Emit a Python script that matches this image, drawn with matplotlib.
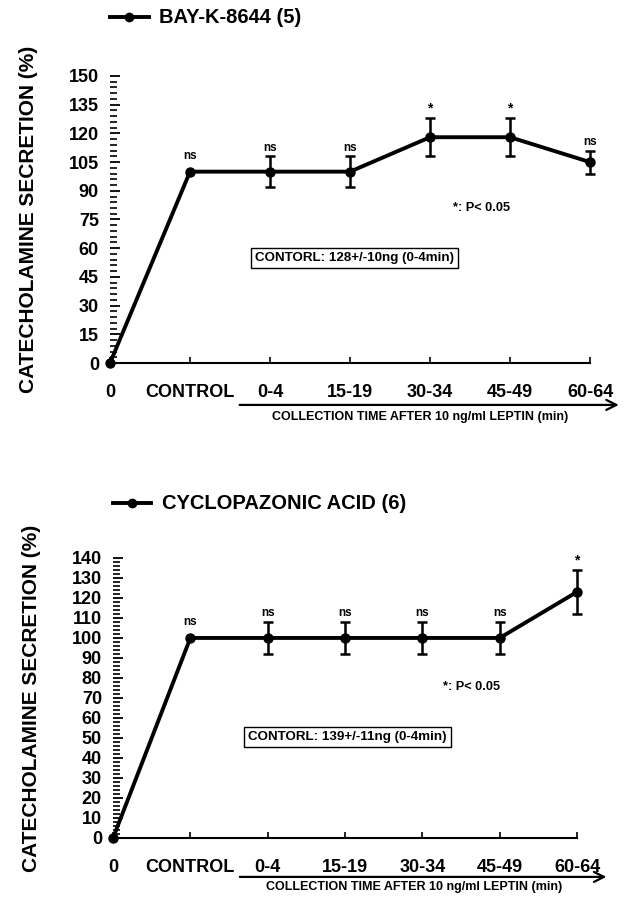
import matplotlib
matplotlib.use("Agg")
import matplotlib.pyplot as plt
from matplotlib.ticker import MultipleLocator

plt.rcParams['font.family'] = ['Liberation Sans', 'DejaVu Sans']
plt.rcParams['font.weight'] = 'bold'

# shared x categories
categories = ['0', 'CONTROL', '0-4', '15-19', '30-34', '45-49', '60-64']

# panel 1: BAY-K-8644
bay_mean = [0, 100, 100, 100, 118, 118, 105]
bay_err = [0, 0, 8, 8, 10, 10, 6]
bay_sig = ['', 'ns', 'ns', 'ns', '*', '*', 'ns']

# panel 2: cyclopazonic acid
cpa_mean = [0, 100, 100, 100, 100, 100, 123]
cpa_err = [0, 0, 8, 8, 8, 8, 11]
cpa_sig = ['', 'ns', 'ns', 'ns', 'ns', 'ns', '*']

fig = plt.figure(figsize=(6.28, 8.97), dpi=100)


def draw_panel(ax, mean, err, sig, ymax, major, minor, legend, control,
               arrow_y, xlab_y, leg_y):
    x = list(range(len(categories)))
    ax.plot(x, mean, color='black', lw=2.8, marker='o', ms=6.5,
            clip_on=False, zorder=3)
    ex = x[2:]
    ax.errorbar(ex, mean[2:], yerr=err[2:], fmt='none', ecolor='black',
                elinewidth=1.8, capsize=3.5, capthick=1.8, clip_on=False)
    for xi, m, e, s in zip(x, mean, err, sig):
        if not s:
            continue
        top = m + e
        off = 7 if e == 0 else 2
        ax.annotate(s, (xi, top), xytext=(0, off), textcoords='offset points',
                    ha='center', va='bottom', fontsize=8.5 if s == 'ns' else 10,
                    fontweight='bold', annotation_clip=False)

    ax.set_xlim(0, 6)
    ax.set_ylim(0, ymax)
    ax.set_xticks(x)
    ax.set_xticklabels(categories, fontsize=13, fontweight='bold')
    ax.tick_params(axis='x', direction='in', length=4, width=1.2, pad=15)
    ax.yaxis.set_major_locator(MultipleLocator(major))
    ax.yaxis.set_minor_locator(MultipleLocator(minor))
    ax.tick_params(axis='y', which='major', direction='in', length=7,
                   width=1.3, labelsize=13, pad=8)
    ax.tick_params(axis='y', which='minor', direction='in', length=5,
                   width=1.2)
    for lab in ax.get_yticklabels():
        lab.set_fontweight('bold')
    for side in ['top', 'right', 'left']:
        ax.spines[side].set_visible(False)
    ax.spines['bottom'].set_linewidth(1.5)

    ax.set_ylabel('CATECHOLAMINE SECRETION (%)', fontsize=15,
                  fontweight='bold', labelpad=22)

    # arrow under the post-leptin collection times
    tr = ax.get_xaxis_transform()
    ax.annotate('', xy=(arrow_y[1], arrow_y[2]), xytext=(arrow_y[0], arrow_y[2]),
                xycoords=tr, textcoords=tr, annotation_clip=False,
                arrowprops=dict(arrowstyle='->', lw=1.6, color='black',
                                mutation_scale=18, shrinkA=0, shrinkB=0))
    ax.text(xlab_y[0], xlab_y[1], 'COLLECTION TIME AFTER 10 ng/ml LEPTIN (min)',
            transform=tr, ha='center', va='center', fontsize=9,
            fontweight='bold')

    ax.text(control[0], control[1], control[2], transform=ax.transAxes,
            ha='center', va='center', fontsize=9.6, fontweight='bold',
            bbox=dict(boxstyle='square,pad=0.3', fc='white', ec='black', lw=1))
    ax.text(control[3], control[4], '*: P< 0.05', transform=ax.transAxes,
            ha='left', va='center', fontsize=9.2, fontweight='bold')

    # legend-style header
    ax.plot([leg_y[0], leg_y[1]], [leg_y[2], leg_y[2]], transform=ax.transAxes,
            color='black', lw=2.8, clip_on=False)
    ax.plot([(leg_y[0] + leg_y[1]) / 2], [leg_y[2]], transform=ax.transAxes,
            color='black', marker='o', ms=6, clip_on=False)
    ax.text(leg_y[3], leg_y[2], legend, transform=ax.transAxes, ha='left',
            va='center', fontsize=14.5, fontweight='bold')


ax1 = fig.add_axes([0.1752, 0.5953, 0.7643, 0.3200])
draw_panel(ax1, bay_mean, bay_err, bay_sig, 150, 15, 3,
           'BAY-K-8644 (5)',
           (0.510, 0.366, 'CONTORL: 128+/-10ng (0-4min)', 0.714, 0.540),
           (1.62, 6.36, -0.146), (3.875, -0.188),
           (0.0, 0.081, 1.205, 0.102))

ax2 = fig.add_axes([0.1800, 0.0658, 0.7388, 0.3122])
draw_panel(ax2, cpa_mean, cpa_err, cpa_sig, 140, 10, 2,
           'CYCLOPAZONIC ACID (6)',
           (0.505, 0.361, 'CONTORL: 139+/-11ng (0-4min)', 0.711, 0.540),
           (1.64, 6.38, -0.139), (3.9, -0.175),
           (0.0, 0.082, 1.195, 0.106))

fig.savefig('out.png', dpi=100)
